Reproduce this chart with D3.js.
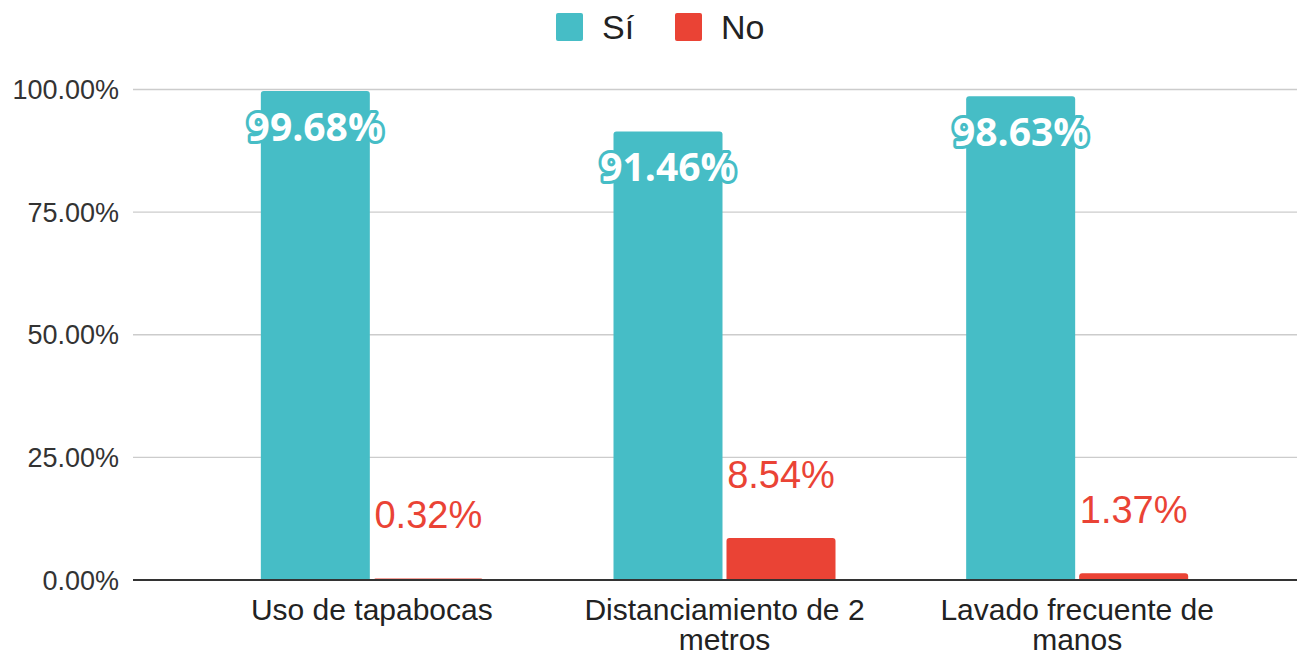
<!DOCTYPE html>
<html><head><meta charset="utf-8">
<script src="https://cdn.jsdelivr.net/npm/d3@7"></script>
<style>body{margin:0;background:#fff}svg{display:block;font-family:"Liberation Sans",Arial,sans-serif}</style>
</head><body><svg id="c" width="1297" height="657"></svg>
<script>
const categories = [["Uso de tapabocas"], ["Distanciamiento de 2", "metros"], ["Lavado frecuente de", "manos"]];
const seriesNames = ["Sí", "No"];
const siValues = [99.68, 91.46, 98.63];
const noValues = [0.32, 8.54, 1.37];
const yTicks = [0, 25, 50, 75, 100];
const colors = ["#46bdc6", "#ea4335"];

const svg = d3.select("#c");
const W = 1297;
const y = d3.scaleLinear().domain([0, 100]).range([580, 89.5]);
const x = d3.scaleBand().domain(d3.range(categories.length)).range([195.5, 1253.5]).paddingInner(0).paddingOuter(0);
const barW = 109, gap = 4;

// gridlines
svg.append("g").selectAll("line").data(yTicks.filter(d => d > 0)).join("line")
  .attr("x1", 133).attr("x2", W).attr("y1", d => y(d)).attr("y2", d => y(d))
  .attr("stroke", "#cccccc").attr("stroke-width", 1.3);

// y tick labels
svg.append("g").selectAll("text").data(yTicks).join("text")
  .attr("x", 119).attr("y", d => y(d)).attr("dy", "0.36em")
  .attr("text-anchor", "end").attr("font-size", 27).attr("fill", "#333")
  .text(d => d.toFixed(2) + "%");

function roundedTop(x0, y0, w, h, r) {
  r = Math.min(r, h, w / 2);
  return `M${x0},${y0 + h}V${y0 + r}Q${x0},${y0} ${x0 + r},${y0}H${x0 + w - r}Q${x0 + w},${y0} ${x0 + w},${y0 + r}V${y0 + h}Z`;
}

const series = [siValues, noValues];
series.forEach((vals, si) => {
  svg.append("g").selectAll("path").data(vals).join("path")
    .attr("d", (d, i) => {
      const cx = x(i) + x.bandwidth() / 2;
      const x0 = si === 0 ? cx - gap / 2 - barW : cx + gap / 2;
      const top = y(d);
      return roundedTop(x0, top, barW, y(0) - top, 3);
    })
    .attr("fill", colors[si]);
});

// Sí labels (inside, white with teal outline)
svg.append("g").selectAll("text").data(siValues).join("text")
  .attr("x", (d, i) => x(i) + x.bandwidth() / 2 - gap / 2 - barW / 2)
  .attr("y", d => y(d) + 36).attr("dy", "0.36em")
  .attr("text-anchor", "middle").attr("font-size", 39).attr("font-weight", "bold")
  .attr("font-family", "'Open Sans', sans-serif")
  .attr("fill", "#fff").attr("stroke", "#46bdc6").attr("stroke-width", 6)
  .attr("paint-order", "stroke").attr("stroke-linejoin", "round")
  .text(d => d.toFixed(2) + "%");

// No labels
svg.append("g").selectAll("text").data(noValues).join("text")
  .attr("x", (d, i) => x(i) + x.bandwidth() / 2 + gap / 2 + barW / 2)
  .attr("y", d => y(d) - 64).attr("dy", "0.36em")
  .attr("text-anchor", "middle").attr("font-size", 38)
  .attr("fill", "#ea4335")
  .text(d => d.toFixed(2) + "%");

// baseline
svg.append("line").attr("x1", 133).attr("x2", W).attr("y1", y(0)).attr("y2", y(0))
  .attr("stroke", "#333").attr("stroke-width", 2);

// category labels
const cl = svg.append("g").selectAll("text").data(categories).join("text")
  .attr("text-anchor", "middle").attr("font-size", 30).attr("fill", "#222");
cl.each(function(lines, i) {
  d3.select(this).selectAll("tspan").data(lines).join("tspan")
    .attr("x", x(i) + x.bandwidth() / 2)
    .attr("y", (d, j) => 620 + j * 30)
    .text(d => d);
});

// legend
const leg = svg.append("g");
const legX = [556, 675];
seriesNames.forEach((n, i) => {
  leg.append("rect").attr("x", legX[i]).attr("y", 13).attr("width", 27).attr("height", 28)
    .attr("rx", 2).attr("fill", colors[i]);
  leg.append("text").attr("x", legX[i] + 46).attr("y", 27).attr("dy", "0.36em")
    .attr("font-size", 34).attr("fill", "#222").text(n);
});
</script></body></html>
